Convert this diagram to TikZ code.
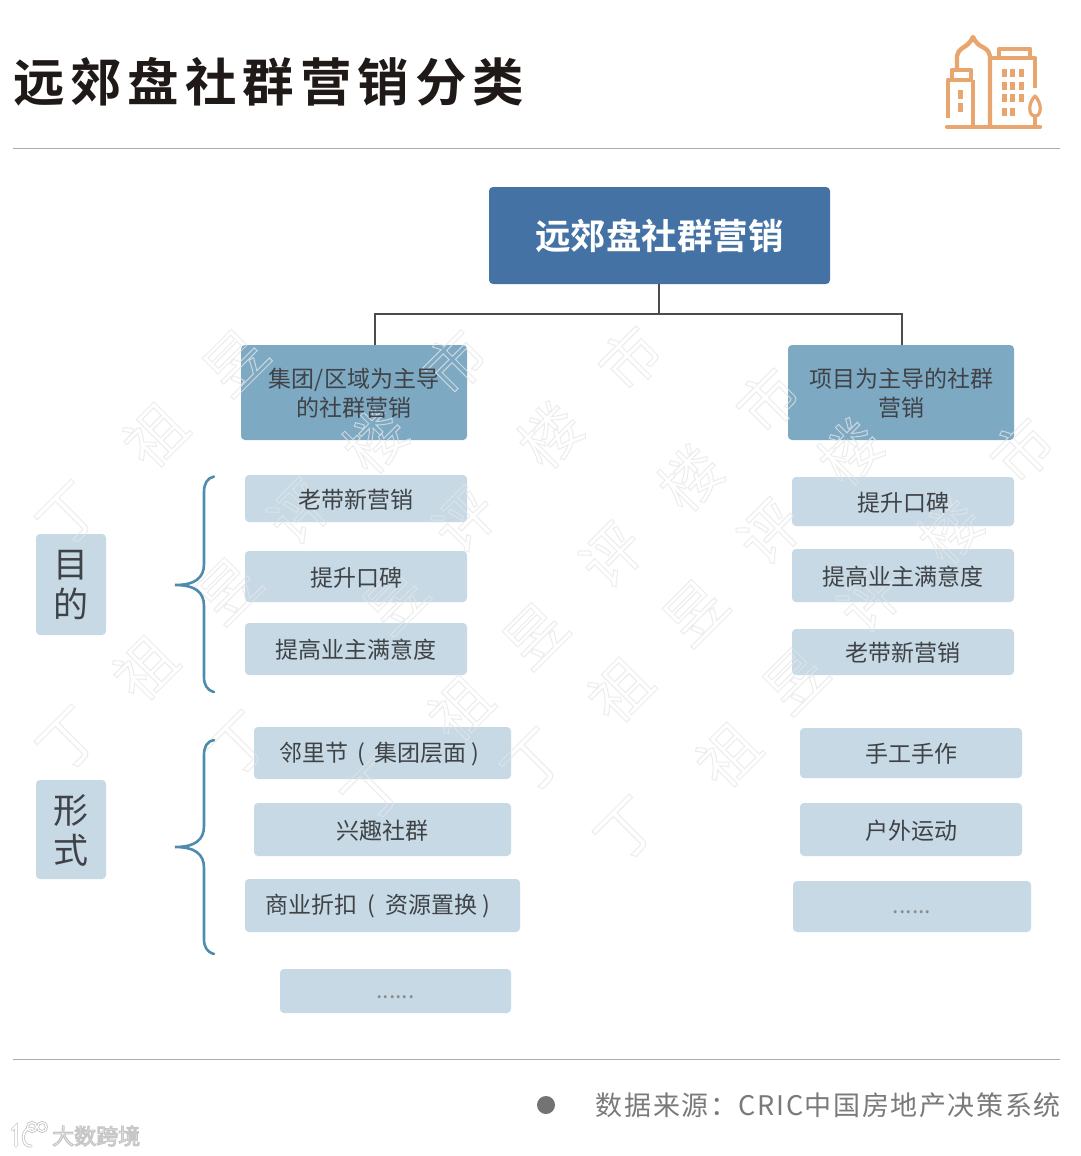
\documentclass[tikz,border=0pt]{standalone}
\usepackage{fontspec}
\setmainfont{Noto Sans CJK SC}
\newfontfamily\titlefont[LetterSpace=11.5]{Noto Sans CJK SC Bold}
\newfontfamily\boldcjk{Noto Sans CJK SC Bold}
\newfontfamily\footfont[LetterSpace=6]{Noto Sans CJK SC}
\usetikzlibrary{calc}
\pgfdeclarelayer{boxfill}
\pgfdeclarelayer{wmark}
\pgfsetlayers{boxfill,wmark,main}
\definecolor{topblue}{HTML}{4472A5}
\definecolor{midblue}{HTML}{7EA9C3}
\definecolor{lightblue}{HTML}{C6D9E5}
\definecolor{bodytxt}{HTML}{3F4347}
\definecolor{bracecol}{HTML}{4F8BAE}
\definecolor{iconcol}{HTML}{E9A56E}
\definecolor{rulecol}{HTML}{ABABAB}
\definecolor{wmcol}{HTML}{E6E6E6}
\definecolor{titlecol}{HTML}{1F1A17}
\tikzset{
  x=1pt,y=-1pt,
  boxbase/.style={inner sep=0pt,rounded corners=4pt},
  txtbase/.style={inner sep=0pt,align=center,text=bodytxt},
  topbox/.style={boxbase,fill=topblue},
  midbox/.style={boxbase,fill=midblue},
  leafbox/.style={boxbase,fill=lightblue},
  toptxt/.style={txtbase,text=white,font=\boldcjk\fontsize{35.5}{40}\selectfont},
  bodyt/.style={txtbase,font=\fontsize{23}{29}\selectfont},
  dimt/.style={txtbase,text=black!45,font=\fontsize{23}{27}\selectfont},
  sidet/.style={txtbase,font=\fontsize{35}{40}\selectfont},
  brace/.style={draw=bracecol,line width=2.6pt,line cap=round},
  iconline/.style={draw=iconcol,line width=4.4pt,line join=round},
  win/.style={fill=iconcol},
  rulel/.style={draw=rulecol,line width=1pt},
  wm/.style={text=wmcol,inner sep=0pt,rotate=45,opacity=.75,font=\fontsize{60}{60}\selectfont},
  link/.style={draw=black!70,line width=1.6pt},
  logoline/.style={draw=black!22,line width=3.2pt,line cap=round},
  logoin/.style={draw=white,line width=1.6pt,line cap=round}
}
% #1 name, #2 box style, #3..#6 corners, #7 text style, #8 text
\newcommand{\bx}[8]{%
  \pgfmathsetmacro{\cxx}{(#3+#5)/2}\pgfmathsetmacro{\cyy}{(#4+#6)/2}%
  \pgfmathsetmacro{\wdd}{#5-#3}\pgfmathsetmacro{\htt}{#6-#4}%
  \begin{pgfonlayer}{boxfill}\node[#2,minimum width=\wdd pt,minimum height=\htt pt] (#1) at (\cxx,\cyy) {};\end{pgfonlayer}%
  \node[#7] (#1t) at (\cxx,\cyy+0.8) {#8};}
\newcommand{\wmk}[3]{\node[wm] (#1) at (#2) {\special{pdf:code 1 Tr 1 w}#3\special{pdf:code 0 Tr}};}
\begin{document}
\begin{tikzpicture}
\begin{pgfonlayer}{boxfill}
\fill[white] (0,0) rectangle (1080,1156);
\end{pgfonlayer}
\useasboundingbox (0,0) rectangle (1080,1156);
% header
\node[anchor=west,inner sep=0pt,text=titlecol,font=\titlefont\fontsize{51.5}{60}\selectfont] (title) at (13,82) {远郊盘社群营销分类};
\coordinate (r1a) at (13,148.5); \coordinate (r1b) at (1060,148.5);
\draw[rulel] (r1a) -- (r1b);
\coordinate (r2a) at (13,1059.5); \coordinate (r2b) at (1060,1059.5);
\draw[rulel] (r2a) -- (r2b);
% icon
\draw[iconline] (948,118) -- (948,80) -- (973,80);
\draw[iconline] (952,79) -- (952,70) -- (971,70) -- (971,79);
\draw[iconline] (957,69) -- (957,56) .. controls (958,49) and (965,47) .. (967,45) .. controls (970,42) and (972,40) .. (973,37) .. controls (974,40) and (976,42) .. (979,45) .. controls (982,47) and (989,49) .. (990,56) -- (990,127);
\draw[iconline] (973,80) -- (973,127);
\draw[iconline] (992,58) -- (1035,58) -- (1035,88);
\draw[iconline] (999,57) -- (999,49) -- (1030,49) -- (1030,57);
\draw[iconline,line cap=round] (947,127) -- (1040,127);
\draw[iconline,line width=3.4pt] (1035,127) -- (1035,116);
\draw[iconline,line width=3.2pt] (1035,96) .. controls (1028,103) and (1028,116) .. (1035,116) .. controls (1042,116) and (1042,103) .. (1035,96) -- cycle;
\foreach \wx in {1002,1010,1019}{\foreach \wy in {69,82,94}{\fill[win] (\wx,\wy) rectangle ++(4.5,8);}}
\foreach \wx in {1002,1010}{\fill[win] (\wx,108) rectangle ++(4.5,8);}
\fill[win] (958,90) rectangle ++(5,9);
\fill[win] (958,103) rectangle ++(5,9);
% tree
\bx{top}{topbox}{489}{187}{830}{284}{toptxt}{远郊盘社群营销}
\bx{lhead}{midbox}{241}{345}{467}{440}{bodyt}{集团/区域为主导\\的社群营销}
\bx{rhead}{midbox}{788}{345}{1014}{440}{bodyt}{项目为主导的社群\\营销}
\coordinate (jn) at (659,314);
\coordinate (lj) at (375,345);
\coordinate (rj) at (902,345);
\draw[link] (top.south -| jn) -- (jn);
\draw[link] (lj) |- (jn) -| (rj);
\bx{a1}{leafbox}{245}{475}{467}{522}{bodyt}{老带新营销}
\bx{a2}{leafbox}{245}{551}{467}{602}{bodyt}{提升口碑}
\bx{a3}{leafbox}{245}{623}{467}{675}{bodyt}{提高业主满意度}
\bx{b1}{leafbox}{792}{477}{1014}{526}{bodyt}{提升口碑}
\bx{b2}{leafbox}{792}{549}{1014}{602}{bodyt}{提高业主满意度}
\bx{b3}{leafbox}{792}{629}{1014}{675}{bodyt}{老带新营销}
\bx{c1}{leafbox}{254}{727}{511}{779}{bodyt}{邻里节\hspace{4pt} (\hspace{4pt} 集团层面 )\hspace{7pt}}
\bx{c2}{leafbox}{254}{803}{511}{856}{bodyt}{兴趣社群}
\bx{c3}{leafbox}{245}{879}{520}{932}{bodyt}{商业折扣\hspace{5pt} (\hspace{5pt} 资源置换 )\hspace{10pt}}
\bx{c4}{leafbox}{280}{969}{511}{1013}{dimt}{\raisebox{-13pt}{......}}
\bx{d1}{leafbox}{800}{728}{1022}{778}{bodyt}{手工手作}
\bx{d2}{leafbox}{800}{803}{1022}{856}{bodyt}{户外运动}
\bx{d3}{leafbox}{793}{881}{1031}{932}{dimt}{\raisebox{-12pt}{......}}
\bx{s1}{leafbox}{36}{534}{106}{635}{sidet}{目\\的}
\bx{s2}{leafbox}{36}{780}{106}{879}{sidet}{形\\式}
% braces
\draw[brace] (214,476.5) .. controls (207,478) and (204,484) .. (204,492) -- (204,564) .. controls (204,578) and (195,585) .. (175,585) .. controls (195,585) and (204,592) .. (204,606) -- (204,677) .. controls (204,685) and (207,690) .. (214,692);
\draw[brace] (214,740) .. controls (207,741) and (204,747) .. (204,755) -- (204,826) .. controls (204,840) and (195,847) .. (175,847) .. controls (195,847) and (204,854) .. (204,868) -- (204,939) .. controls (204,947) and (207,952) .. (214,954);
% footer
\fill[black!55] (546,1105) circle (9);
\node[anchor=east,inner sep=0pt,text=black!52,font=\footfont\fontsize{27}{32}\selectfont] (src) at (1061,1105) {数据来源：CRIC中国房地产决策系统};
\node[anchor=west,inner sep=0pt,text=white,font=\fontsize{22}{24}\selectfont] (logo) at (52,1136) {\special{pdf:code 2 Tr 1.1 w 0.78 G 0.98 g}大数跨境\special{pdf:code 0 Tr}};
\draw[logoline] (12,1130) -- (16,1126) -- (16,1146);
\draw[logoline] (33,1129) .. controls (22,1124) and (19,1147) .. (31,1146);
\draw[logoline,line width=3pt] (32,1127) circle (4.5) (42,1127) circle (4.5);
\draw[logoin] (12,1130) -- (16,1126) -- (16,1146);
\draw[logoin] (33,1129) .. controls (22,1124) and (19,1147) .. (31,1146);
\draw[logoin,line width=1.2pt] (32,1127) circle (4.5) (42,1127) circle (4.5);
% watermark
\begin{pgfonlayer}{wmark}
\wmk{w01}{70,515}{丁}\wmk{w02}{155,435}{祖}\wmk{w03}{235,362}{昱}
\wmk{w11}{70,740}{丁}\wmk{w12}{145,668}{祖}\wmk{w13}{228,590}{昱}\wmk{w14}{300,512}{评}\wmk{w15}{375,440}{楼}\wmk{w16}{455,362}{市}
\wmk{w21}{240,745}{丁}\wmk{w23}{395,600}{昱}\wmk{w24}{465,520}{评}\wmk{w25}{550,435}{楼}\wmk{w26}{630,358}{市}
\wmk{w31}{375,790}{丁}\wmk{w32}{460,708}{祖}\wmk{w33}{535,635}{昱}\wmk{w34}{612,555}{评}\wmk{w35}{690,478}{楼}\wmk{w36}{768,400}{市}
\wmk{w41}{535,762}{丁}\wmk{w42}{620,690}{祖}\wmk{w43}{695,612}{昱}\wmk{w44}{770,532}{评}\wmk{w45}{850,452}{楼}
\wmk{w51}{628,830}{丁}\wmk{w52}{728,755}{祖}\wmk{w53}{795,680}{昱}\wmk{w54}{870,600}{评}\wmk{w55}{950,530}{楼}\wmk{w56}{1022,450}{市}
\end{pgfonlayer}
\end{tikzpicture}
\end{document}
